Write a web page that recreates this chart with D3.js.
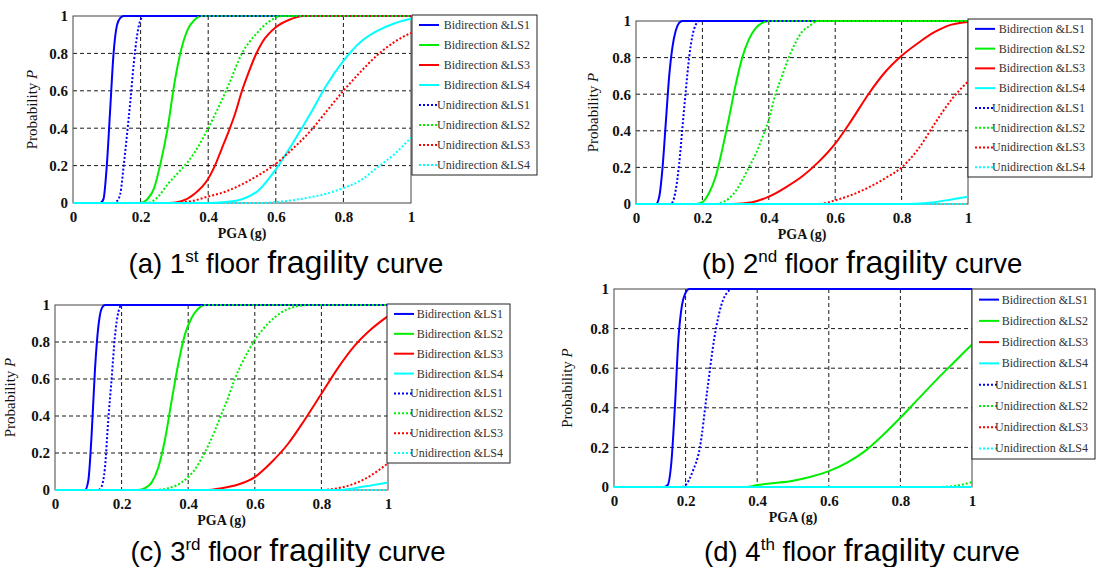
<!DOCTYPE html>
<html>
<head>
<meta charset="utf-8">
<script src="https://cdn.jsdelivr.net/npm/d3@7"></script>
<style>
  html, body { margin: 0; padding: 0; background: #fff; }
  svg { display: block; }
</style>
</head>
<body>
<svg id="fig" width="1099" height="567"></svg>
<script>
// ---- data: fragility curves, [PGA (g), probability] pairs, order LS1..LS4 ----
const seriesLabels = [
  "Bidirection &LS1", "Bidirection &LS2", "Bidirection &LS3", "Bidirection &LS4",
  "Unidirection &LS1", "Unidirection &LS2", "Unidirection &LS3", "Unidirection &LS4"
];
const seriesColors = ["#0000ff", "#00ee00", "#ff0000", "#00ffff"];
const tickLabels = ["0", "0.2", "0.4", "0.6", "0.8", "1"];
const tickValues = [0, 0.2, 0.4, 0.6, 0.8, 1];

const floor1Bi = [
  [[0,0],[0.08,0],[0.09,0.02],[0.1,0.2],[0.11,0.5],[0.12,0.8],[0.13,0.95],[0.14,0.99],[0.15,1],[1,1]],
  [[0,0],[0.2,0],[0.22,0.02],[0.24,0.08],[0.26,0.22],[0.28,0.4],[0.3,0.64],[0.32,0.82],[0.34,0.93],[0.36,0.98],[0.38,1],[1,1]],
  [[0,0],[0.28,0],[0.32,0.01],[0.36,0.05],[0.4,0.13],[0.42,0.2],[0.44,0.29],[0.46,0.38],[0.48,0.48],[0.5,0.6],[0.52,0.7],[0.54,0.79],[0.56,0.86],[0.6,0.94],[0.64,0.98],[0.68,1],[1,1]],
  [[0,0],[0.4,0],[0.45,0.005],[0.5,0.02],[0.55,0.07],[0.6,0.18],[0.65,0.32],[0.7,0.47],[0.75,0.63],[0.8,0.76],[0.85,0.86],[0.9,0.92],[0.95,0.96],[1,0.985]]
];
const floor1Uni = [
  [[0,0],[0.12,0],[0.13,0.01],[0.14,0.05],[0.15,0.2],[0.16,0.37],[0.17,0.55],[0.18,0.75],[0.19,0.9],[0.2,0.98],[0.21,1],[1,1]],
  [[0,0],[0.22,0],[0.25,0.03],[0.28,0.1],[0.31,0.16],[0.34,0.22],[0.37,0.3],[0.4,0.4],[0.43,0.51],[0.46,0.63],[0.5,0.8],[0.54,0.9],[0.58,0.97],[0.62,1],[1,1]],
  [[0,0],[0.28,0],[0.35,0.01],[0.4,0.035],[0.45,0.06],[0.5,0.1],[0.55,0.15],[0.6,0.21],[0.65,0.29],[0.7,0.38],[0.75,0.49],[0.8,0.6],[0.85,0.7],[0.9,0.79],[0.95,0.86],[1,0.91]],
  [[0,0],[0.55,0],[0.6,0.005],[0.65,0.015],[0.7,0.03],[0.75,0.05],[0.8,0.08],[0.85,0.12],[0.9,0.19],[0.95,0.26],[1,0.35]]
];

const floor2Bi = [
  [[0,0],[0.06,0],[0.07,0.04],[0.08,0.2],[0.09,0.45],[0.1,0.7],[0.11,0.86],[0.12,0.95],[0.13,0.99],[0.14,1],[1,1]],
  [[0,0],[0.18,0],[0.2,0.01],[0.22,0.06],[0.24,0.15],[0.26,0.3],[0.28,0.47],[0.3,0.65],[0.32,0.8],[0.34,0.9],[0.36,0.96],[0.38,0.99],[0.4,1],[1,1]],
  [[0,0],[0.29,0],[0.35,0.01],[0.4,0.04],[0.45,0.09],[0.5,0.15],[0.55,0.23],[0.6,0.33],[0.65,0.46],[0.7,0.6],[0.75,0.72],[0.8,0.81],[0.85,0.88],[0.9,0.94],[0.95,0.98],[1,0.995]],
  [[0,0],[0.82,0],[0.9,0.01],[0.95,0.025],[1,0.04]]
];
const floor2Uni = [
  [[0,0],[0.1,0],[0.11,0.01],[0.12,0.08],[0.13,0.22],[0.14,0.42],[0.15,0.62],[0.16,0.8],[0.17,0.92],[0.18,0.98],[0.19,1],[1,1]],
  [[0,0],[0.24,0],[0.26,0.01],[0.28,0.03],[0.3,0.07],[0.32,0.13],[0.34,0.2],[0.36,0.27],[0.38,0.36],[0.4,0.46],[0.42,0.6],[0.44,0.7],[0.46,0.8],[0.48,0.88],[0.5,0.94],[0.52,0.97],[0.55,1],[1,1]],
  [[0,0],[0.55,0],[0.6,0.02],[0.65,0.05],[0.7,0.09],[0.75,0.14],[0.8,0.2],[0.85,0.3],[0.9,0.44],[0.95,0.57],[1,0.67]],
  [[0,0],[1,0]]
];

const floor3Bi = [
  [[0,0],[0.09,0],[0.1,0.05],[0.11,0.3],[0.12,0.65],[0.13,0.88],[0.14,0.98],[0.15,1],[1,1]],
  [[0,0],[0.25,0],[0.27,0.01],[0.29,0.04],[0.31,0.12],[0.33,0.27],[0.35,0.48],[0.37,0.68],[0.39,0.84],[0.41,0.93],[0.43,0.98],[0.45,1],[1,1]],
  [[0,0],[0.45,0],[0.5,0.01],[0.55,0.03],[0.6,0.07],[0.65,0.15],[0.7,0.25],[0.75,0.38],[0.8,0.52],[0.85,0.66],[0.9,0.78],[0.95,0.87],[1,0.94]],
  [[0,0],[0.85,0],[0.9,0.01],[0.95,0.025],[1,0.04]]
];
const floor3Uni = [
  [[0,0],[0.13,0],[0.14,0.02],[0.15,0.12],[0.16,0.38],[0.17,0.6],[0.18,0.83],[0.19,0.96],[0.2,1],[1,1]],
  [[0,0],[0.3,0],[0.34,0.01],[0.38,0.04],[0.4,0.07],[0.42,0.11],[0.44,0.17],[0.46,0.24],[0.48,0.32],[0.5,0.41],[0.52,0.5],[0.54,0.6],[0.56,0.68],[0.58,0.75],[0.6,0.81],[0.64,0.9],[0.68,0.96],[0.72,0.99],[0.76,1],[1,1]],
  [[0,0],[0.8,0],[0.85,0.01],[0.9,0.035],[0.95,0.08],[1,0.145]],
  [[0,0],[1,0]]
];

const floor4Bi = [
  [[0,0],[0.14,0],[0.15,0.01],[0.16,0.12],[0.17,0.4],[0.18,0.75],[0.19,0.92],[0.2,0.98],[0.21,1],[1,1]],
  [[0,0],[0.37,0],[0.4,0.01],[0.45,0.02],[0.5,0.032],[0.55,0.052],[0.6,0.08],[0.65,0.122],[0.7,0.18],[0.75,0.26],[0.8,0.35],[0.85,0.445],[0.9,0.54],[0.95,0.63],[1,0.72]],
  [[0,0],[1,0]],
  [[0,0],[1,0]]
];
const floor4Uni = [
  [[0,0],[0.19,0],[0.2,0.01],[0.22,0.08],[0.24,0.2],[0.26,0.48],[0.28,0.75],[0.3,0.92],[0.32,0.99],[0.33,1],[1,1]],
  [[0,0],[0.9,0],[0.95,0.005],[1,0.025]],
  [[0,0],[1,0]],
  [[0,0],[1,0]]
];

const captionTags = ["(a)", "(b)", "(c)", "(d)"];
const floorNumbers = ["1", "2", "3", "4"];
const floorSuffixes = ["st", "nd", "rd", "th"];

// ---- layout of the four sub-figures ----
const panels = [
  { box: [73, 411, 16, 203],  legend: [412, 15, 537, 175],  ylabDx: -36, bi: floor1Bi, uni: floor1Uni, cap: [286, 273] },
  { box: [636, 968, 21, 204], legend: [968, 19, 1092, 177], ylabDx: -38, bi: floor2Bi, uni: floor2Uni, cap: [862, 273] },
  { box: [55, 388, 305, 490], legend: [387, 304, 510, 463], ylabDx: -40, bi: floor3Bi, uni: floor3Uni, cap: [288, 561] },
  { box: [614, 972, 289, 487], legend: [972, 289, 1095, 459], ylabDx: -42, bi: floor4Bi, uni: floor4Uni, cap: [862, 561] }
];

const svg = d3.select("#fig");
svg.append("rect").attr("width", 1099).attr("height", 567).attr("fill", "#fff");

const serif = "'Liberation Serif', 'Times New Roman', serif";
const sans = "'Liberation Sans', Arial, sans-serif";

panels.forEach((p, pi) => {
  const [L, R, T, B] = p.box;
  const x = d3.scaleLinear().domain([0, 1]).range([L, R]);
  const y = d3.scaleLinear().domain([0, 1]).range([B, T]);
  const g = svg.append("g");

  // dashed grid
  const grid = g.append("g").attr("stroke", "#000").attr("stroke-width", 0.9).attr("stroke-dasharray", "4,3");
  tickValues.slice(1, -1).forEach(v => {
    grid.append("line").attr("x1", x(v)).attr("x2", x(v)).attr("y1", T).attr("y2", B);
    grid.append("line").attr("x1", L).attr("x2", R).attr("y1", y(v)).attr("y2", y(v));
  });

  // axes with bold serif tick labels
  const xAxis = d3.axisBottom(x).tickValues(tickValues).tickFormat((d, i) => tickLabels[i]).tickSize(0).tickPadding(8);
  const yAxis = d3.axisLeft(y).tickValues(tickValues).tickFormat((d, i) => tickLabels[i]).tickSize(0).tickPadding(5);
  const gx = g.append("g").attr("transform", `translate(0,${B})`).call(xAxis);
  const gy = g.append("g").attr("transform", `translate(${L},0)`).call(yAxis);
  [gx, gy].forEach(a => {
    a.select(".domain").remove();
    a.selectAll("text").attr("font-family", serif).attr("font-weight", "bold")
      .attr("font-size", 15).attr("fill", "#111");
  });

  // frame
  g.append("rect").attr("x", L).attr("y", T).attr("width", R - L).attr("height", B - T)
    .attr("fill", "none").attr("stroke", "#444").attr("stroke-width", 1);

  // curves
  const line = d3.line().x(d => x(d[0])).y(d => y(d[1])).curve(d3.curveMonotoneX);
  const all = p.bi.map((d, i) => ({ d, c: seriesColors[i], dot: false }))
    .concat(p.uni.map((d, i) => ({ d, c: seriesColors[i], dot: true })));
  all.forEach(s => {
    g.append("path").attr("d", line(s.d)).attr("fill", "none")
      .attr("stroke", s.c).attr("stroke-width", 2)
      .attr("stroke-dasharray", s.dot ? "2,2" : null);
  });

  // axis titles
  const yl = g.append("text")
    .attr("transform", `translate(${L + p.ylabDx},${(T + B) / 2}) rotate(-90)`)
    .attr("text-anchor", "middle").attr("font-family", serif).attr("font-size", 15).attr("fill", "#111");
  yl.append("tspan").text("Probability ");
  yl.append("tspan").attr("font-style", "italic").text("P");

  g.append("text").attr("x", (L + R) / 2).attr("y", B + 35).attr("text-anchor", "middle")
    .attr("font-family", serif).attr("font-weight", "bold").attr("font-size", 14).attr("fill", "#111")
    .text("PGA (g)");

  // legend
  const [lx0, ly0, lx1, ly1] = p.legend;
  const lg = g.append("g");
  lg.append("rect").attr("x", lx0).attr("y", ly0).attr("width", lx1 - lx0).attr("height", ly1 - ly0)
    .attr("fill", "#fff").attr("stroke", "#222").attr("stroke-width", 1);
  const rowH = (ly1 - ly0) / 8;
  all.forEach((s, i) => {
    const ry = ly0 + rowH * (i + 0.5);
    lg.append("line").attr("x1", lx0 + 7).attr("x2", lx0 + 27).attr("y1", ry).attr("y2", ry)
      .attr("stroke", s.c).attr("stroke-width", 2).attr("stroke-dasharray", s.dot ? "2,2" : null);
    lg.append("text").attr("x", lx1 - 7).attr("y", ry + 4).attr("text-anchor", "end")
      .attr("font-family", serif).attr("font-size", 12).attr("fill", "#333")
      .text(seriesLabels[i]);
  });

  // caption
  const cap = svg.append("text").attr("x", p.cap[0]).attr("y", p.cap[1]).attr("text-anchor", "middle")
    .attr("font-family", sans).attr("font-size", 27.5).attr("fill", "#000");
  cap.append("tspan").text(captionTags[pi] + " " + floorNumbers[pi]);
  cap.append("tspan").attr("font-size", 17).attr("dy", -11).text(floorSuffixes[pi]);
  cap.append("tspan").attr("dy", 11).text(" floor ");
  cap.append("tspan").attr("font-size", 32).text("fragility");
  cap.append("tspan").text(" curve");
});
</script>
</body>
</html>
